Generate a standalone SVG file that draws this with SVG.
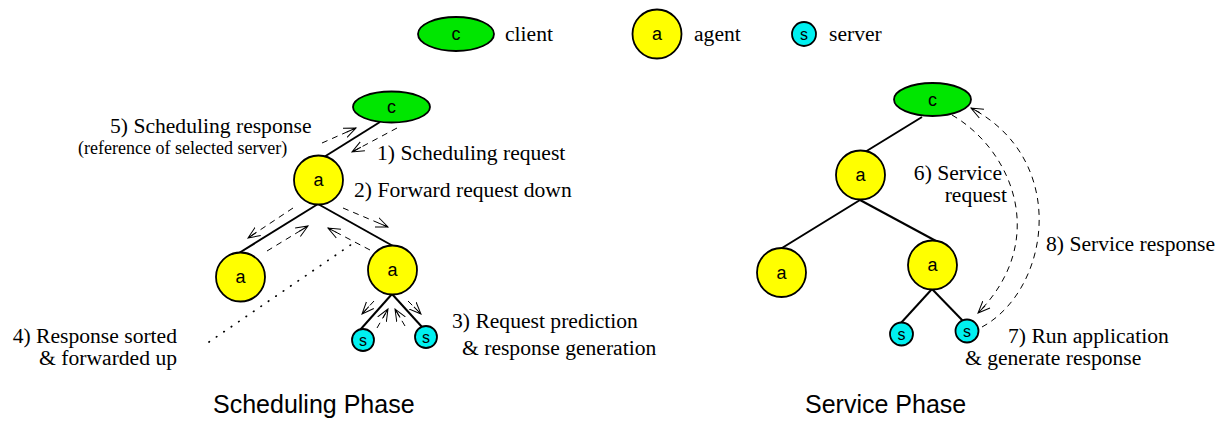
<svg xmlns="http://www.w3.org/2000/svg" width="1221" height="423" viewBox="0 0 1221 423">
<style>
.cl{fill:#00e600;stroke:#000;stroke-width:1.8}
.ag{fill:#ffff00;stroke:#000;stroke-width:1.8}
.sv{fill:#00f0f0;stroke:#000;stroke-width:1.8}
.lbl{font-family:"Liberation Sans",Arial,sans-serif;font-size:18px;text-anchor:middle;fill:#000}
.slbl{font-family:"Liberation Sans",Arial,sans-serif;font-size:16px;text-anchor:middle;fill:#000}
.t{font-family:"Liberation Serif","Times New Roman",serif;font-size:21.6px;fill:#000}
.ts{font-family:"Liberation Serif","Times New Roman",serif;font-size:18px;fill:#000}
.ph{font-family:"Liberation Sans",Arial,sans-serif;font-size:25px;fill:#000}
.edge{stroke:#000;stroke-width:2;fill:none}
.dash{stroke:#000;stroke-width:1;fill:none;stroke-dasharray:6,5}
.dot{stroke:#000;stroke-width:1.7;fill:none;stroke-dasharray:0.5,8.5;stroke-linecap:round}
</style>
<defs>
<marker id="ah" markerWidth="14" markerHeight="12" refX="12" refY="6" orient="auto" markerUnits="userSpaceOnUse">
<path d="M0,1 L12,6 L0,11 M2,6 L12,6" fill="none" stroke="#000" stroke-width="1"/>
</marker>
</defs>

<g id="legend">
<g id="legend-client"><ellipse class="cl" cx="456" cy="34" rx="38" ry="17"/><text class="lbl" x="456" y="40">c</text><text class="t" x="505" y="41">client</text></g>
<g id="legend-agent"><circle class="ag" cx="657" cy="34" r="24.5"/><text class="lbl" x="657" y="40">a</text><text class="t" x="694" y="41">agent</text></g>
<g id="legend-server"><circle class="sv" cx="804" cy="34" r="12"/><text class="slbl" x="804" y="40">s</text><text class="t" x="829" y="41">server</text></g>
</g>

<g id="connectors">
<line class="edge" x1="380" y1="122" x2="324" y2="157"/>
<line class="edge" x1="318" y1="204" x2="239" y2="253"/>
<line class="edge" x1="318" y1="204" x2="393" y2="246"/>
<line class="edge" x1="392" y1="294" x2="360" y2="330"/>
<line class="edge" x1="392" y1="294" x2="422" y2="327"/>
<line class="dash" x1="397" y1="128" x2="352" y2="152" marker-end="url(#ah)"/>
<line class="dash" x1="322" y1="143" x2="356" y2="128" marker-end="url(#ah)"/>
<line class="dash" x1="293" y1="208" x2="248" y2="238" marker-end="url(#ah)"/>
<line class="dash" x1="267" y1="251" x2="308" y2="226" marker-end="url(#ah)"/>
<line class="dash" x1="343" y1="208" x2="388" y2="227" marker-end="url(#ah)"/>
<line class="dash" x1="370" y1="250" x2="328" y2="228" marker-end="url(#ah)"/>
<line class="dash" x1="374" y1="301" x2="362" y2="314" marker-end="url(#ah)"/>
<line class="dash" x1="377" y1="328" x2="388" y2="309" marker-end="url(#ah)"/>
<line class="dash" x1="405" y1="326" x2="395" y2="309" marker-end="url(#ah)"/>
<line class="dash" x1="408" y1="301" x2="421" y2="314" marker-end="url(#ah)"/>
<line class="dot" x1="209" y1="342" x2="352" y2="244"/>
<line class="edge" x1="922" y1="117" x2="865" y2="152"/>
<line class="edge" x1="860" y1="200" x2="782" y2="248"/>
<line class="edge" x1="860" y1="200" x2="936" y2="241"/>
<line class="edge" x1="932" y1="289" x2="900" y2="324"/>
<line class="edge" x1="932" y1="289" x2="963" y2="321"/>
<path class="dash" d="M952,115 C1012,150 1050,240 978,313" marker-end="url(#ah)"/>
<path class="dash" d="M982,327 C1050,290 1070,160 971,108" marker-end="url(#ah)"/>
</g>

<g id="sched-client"><ellipse class="cl" cx="391.5" cy="107" rx="38.5" ry="15.5"/><text class="lbl" x="391.5" y="113">c</text></g>
<g id="sched-agent-root"><circle class="ag" cx="318.5" cy="180" r="24.5"/><text class="lbl" x="318.5" y="186">a</text></g>
<g id="sched-agent-left"><circle class="ag" cx="240.5" cy="277" r="24.5"/><text class="lbl" x="240.5" y="283">a</text></g>
<g id="sched-agent-right"><circle class="ag" cx="392.5" cy="270" r="24.5"/><text class="lbl" x="392.5" y="276">a</text></g>
<g id="sched-server-left"><circle class="sv" cx="363" cy="340" r="11"/><text class="slbl" x="363" y="346">s</text></g>
<g id="sched-server-right"><circle class="sv" cx="426" cy="337" r="11"/><text class="slbl" x="426" y="343">s</text></g>

<g id="serv-client"><ellipse class="cl" cx="932.5" cy="99.5" rx="38.5" ry="16.5"/><text class="lbl" x="932.5" y="106">c</text></g>
<g id="serv-agent-root"><circle class="ag" cx="860.5" cy="175" r="24.5"/><text class="lbl" x="860.5" y="181">a</text></g>
<g id="serv-agent-left"><circle class="ag" cx="781.5" cy="272.5" r="24.5"/><text class="lbl" x="781.5" y="279">a</text></g>
<g id="serv-agent-right"><circle class="ag" cx="932.5" cy="265" r="24.5"/><text class="lbl" x="932.5" y="271">a</text></g>
<g id="serv-server-left"><circle class="sv" cx="901.5" cy="334" r="11.5"/><text class="slbl" x="901.5" y="340">s</text></g>
<g id="serv-server-right"><circle class="sv" cx="967" cy="331" r="11.5"/><text class="slbl" x="967" y="337">s</text></g>

<g id="labels">
<text class="t" x="110" y="133">5) Scheduling response</text>
<text class="ts" x="78" y="154">(reference of selected server)</text>
<text class="t" x="377" y="160">1) Scheduling request</text>
<text class="t" x="354" y="197">2) Forward request down</text>
<text class="t" x="452" y="328">3) Request prediction</text>
<text class="t" x="462" y="355">&amp; response generation</text>
<text class="t" x="177" y="343" text-anchor="end">4) Response sorted</text>
<text class="t" x="177" y="365" text-anchor="end">&amp; forwarded up</text>
<text class="ph" x="213" y="413">Scheduling Phase</text>
<text class="t" x="1002" y="180" text-anchor="end">6) Service</text>
<text class="t" x="1007" y="202" text-anchor="end">request</text>
<text class="t" x="1046" y="251">8) Service response</text>
<text class="t" x="1008" y="343">7) Run application</text>
<text class="t" x="965" y="365">&amp; generate response</text>
<text class="ph" x="805" y="413">Service Phase</text>
</g>
</svg>
